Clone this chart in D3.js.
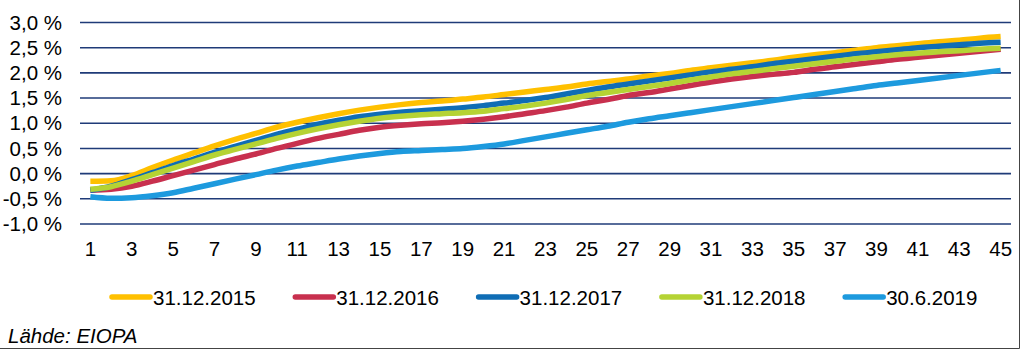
<!DOCTYPE html>
<html>
<head>
<meta charset="utf-8">
<script src="https://cdn.jsdelivr.net/npm/d3@7"></script>
<style>
  body { margin: 0; background: #fff; }
  text { font-family: "Liberation Sans", Arial, sans-serif; fill: #000; }
</style>
</head>
<body>
<div id="chart"></div>
<script>
// chart size
var svgWidth = 1024;
var svgHeight = 352;

// maturities 1..45 years
var maturities = d3.range(1, 46);
var xTickLabels = d3.range(1, 46, 2);
var yTicks = [-1.0, -0.5, 0.0, 0.5, 1.0, 1.5, 2.0, 2.5, 3.0];

var seriesNames = ["31.12.2015", "31.12.2016", "31.12.2017", "31.12.2018", "30.6.2019"];
var seriesColors = ["#ffc000", "#c8304e", "#0f6db5", "#b5d334", "#1d9ade"];

// values (%)
var y2015 = [-0.15, -0.14, -0.04, 0.12, 0.27, 0.41, 0.55, 0.68, 0.80, 0.92,
  1.02, 1.11, 1.19, 1.26, 1.32, 1.37, 1.41, 1.44, 1.48, 1.52,
  1.57, 1.62, 1.67, 1.72, 1.78, 1.83, 1.88, 1.94, 1.99, 2.05,
  2.10, 2.15, 2.20, 2.25, 2.31, 2.36, 2.40, 2.45, 2.50, 2.54,
  2.58, 2.62, 2.65, 2.69, 2.72];
var y2016 = [-0.33, -0.31, -0.25, -0.15, -0.04, 0.07, 0.18, 0.29, 0.39, 0.50,
  0.60, 0.70, 0.78, 0.86, 0.92, 0.96, 0.99, 1.01, 1.04, 1.08,
  1.13, 1.19, 1.25, 1.32, 1.40, 1.47, 1.55, 1.61, 1.68, 1.75,
  1.82, 1.88, 1.93, 1.97, 2.01, 2.07, 2.12, 2.17, 2.22, 2.27,
  2.31, 2.35, 2.39, 2.43, 2.47];
var y2017 = [-0.33, -0.25, -0.12, 0.02, 0.16, 0.29, 0.42, 0.54, 0.66, 0.78,
  0.88, 0.98, 1.06, 1.13, 1.18, 1.22, 1.25, 1.28, 1.31, 1.35,
  1.40, 1.45, 1.51, 1.58, 1.65, 1.72, 1.78, 1.84, 1.90, 1.96,
  2.02, 2.07, 2.12, 2.18, 2.23, 2.28, 2.33, 2.38, 2.42, 2.46,
  2.50, 2.53, 2.56, 2.59, 2.61];
var y2018 = [-0.31, -0.26, -0.15, -0.02, 0.11, 0.24, 0.37, 0.48, 0.59, 0.70,
  0.80, 0.89, 0.97, 1.04, 1.10, 1.14, 1.17, 1.19, 1.21, 1.24,
  1.29, 1.34, 1.40, 1.47, 1.55, 1.61, 1.67, 1.73, 1.79, 1.86,
  1.92, 1.98, 2.03, 2.08, 2.13, 2.18, 2.23, 2.28, 2.32, 2.36,
  2.39, 2.42, 2.44, 2.47, 2.49];
var y2019 = [-0.46, -0.49, -0.48, -0.44, -0.38, -0.29, -0.20, -0.11, -0.02, 0.07,
  0.15, 0.22, 0.29, 0.35, 0.40, 0.44, 0.46, 0.48, 0.50, 0.54,
  0.59, 0.66, 0.73, 0.80, 0.87, 0.94, 1.02, 1.09, 1.15, 1.21,
  1.27, 1.33, 1.39, 1.45, 1.51, 1.57, 1.63, 1.69, 1.75, 1.80,
  1.85, 1.90, 1.95, 2.00, 2.05];

var seriesValues = [y2015, y2016, y2017, y2018, y2019];

var svg = d3.select("#chart")
  .append("svg")
  .attr("width", svgWidth)
  .attr("height", svgHeight);

// plot area
var plot = { left: 80, right: 1011, top: 22.5, bottom: 224 };
var fontSize = "20.5px";

var xScale = d3.scaleBand()
  .domain(maturities)
  .range([plot.left, plot.right])
  .padding(0);

var yScale = d3.scaleLinear()
  .domain([-1.0, 3.0])
  .range([plot.bottom, plot.top]);

var xPos = d => xScale(d) + xScale.bandwidth() / 2;

// gridlines
svg.append("g")
  .selectAll("line")
  .data(yTicks)
  .enter()
  .append("line")
  .attr("x1", plot.left)
  .attr("x2", plot.right)
  .attr("y1", d => yScale(d))
  .attr("y2", d => yScale(d))
  .attr("stroke", "#1f3b78")
  .attr("stroke-width", 1.6);

// y axis labels
var leftAxis = d3.axisLeft(yScale)
  .tickValues(yTicks)
  .tickSize(0)
  .tickPadding(0)
  .tickFormat(d => d3.format(".1f")(d).replace(".", ",").replace("−", "-") + " %");

svg.append("g")
  .attr("transform", "translate(62,0)")
  .call(leftAxis)
  .call(g => g.select(".domain").remove())
  .selectAll("text")
  .style("font-size", fontSize)
  .attr("fill", "#000");

// x axis labels
var bottomAxis = d3.axisBottom(xScale)
  .tickValues(xTickLabels)
  .tickSize(0)
  .tickPadding(0);

svg.append("g")
  .attr("transform", "translate(0,241)")
  .call(bottomAxis)
  .call(g => g.select(".domain").remove())
  .selectAll("text")
  .style("font-size", fontSize)
  .attr("fill", "#000");

// lines
var line = d3.line()
  .x((d, i) => xPos(maturities[i]))
  .y(d => yScale(d))
  .curve(d3.curveMonotoneX);

svg.append("g")
  .selectAll("path")
  .data(seriesValues)
  .enter()
  .append("path")
  .attr("d", d => line(d))
  .attr("fill", "none")
  .attr("stroke", (d, i) => seriesColors[i])
  .attr("stroke-width", 5.5);

// legend
var legend = svg.append("g")
  .attr("transform", "translate(110,297)");

var items = legend.selectAll("g")
  .data(seriesNames)
  .enter()
  .append("g")
  .attr("transform", (d, i) => `translate(${i * 183.3},0)`);

items.append("line")
  .attr("x1", 2)
  .attr("x2", 40)
  .attr("y1", 0)
  .attr("y2", 0)
  .attr("stroke", (d, i) => seriesColors[i])
  .attr("stroke-width", 5.5)
  .attr("stroke-linecap", "round");

items.append("text")
  .attr("x", 43)
  .attr("y", 7.5)
  .style("font-size", fontSize)
  .text(d => d);

// source
svg.append("text")
  .attr("x", 8)
  .attr("y", 343)
  .style("font-size", fontSize)
  .style("font-style", "italic")
  .text("Lähde: EIOPA");

// frame on right and bottom
svg.append("path")
  .attr("d", "M1019.5,0V348.5H0")
  .attr("fill", "none")
  .attr("stroke", "#444")
  .attr("stroke-width", 1);
</script>
</body>
</html>
